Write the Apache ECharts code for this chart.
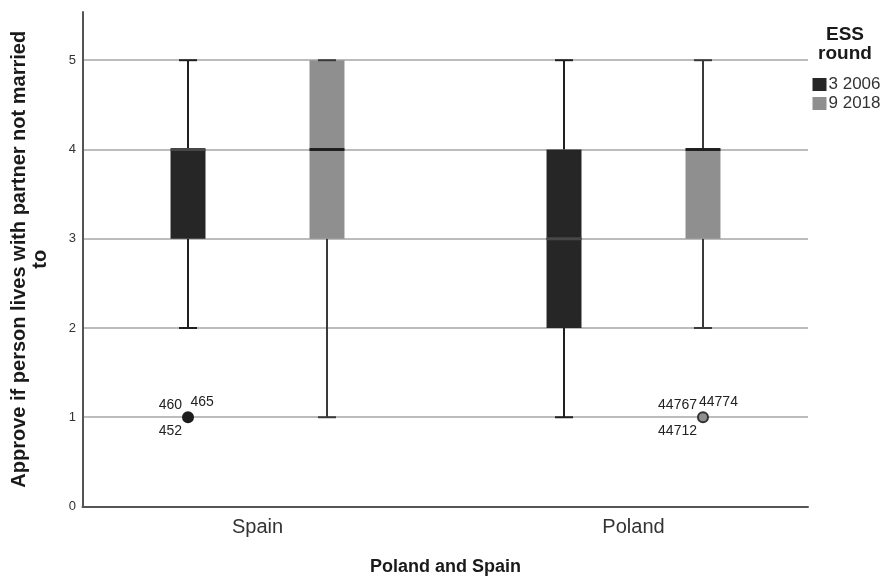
<!DOCTYPE html>
<html>
<head>
<meta charset="utf-8">
<script src="https://cdn.jsdelivr.net/npm/echarts@6/dist/echarts.min.js"></script>
<style>html,body{margin:0;padding:0;background:#fff;}#c{width:885px;height:576px;}</style>
</head>
<body>
<div id="c"></div>
<script>
// ---- data ----
const categories = ['Spain', 'Poland'];
const rounds = ['3 2006', '9 2018'];
// five-number summaries per category (Spain, Poland)
const r2006Min = [2, 1];
const r2006Q1 = [3, 2];
const r2006Median = [4, 3];
const r2006Q3 = [4, 4];
const r2006Max = [5, 5];
const r2018Min = [1, 2];
const r2018Q1 = [3, 3];
const r2018Median = [4, 4];
const r2018Q3 = [5, 4];
const r2018Max = [5, 5];
// outliers
const outlierRound = ['3 2006', '9 2018'];
const outlierCategory = ['Spain', 'Poland'];
const outlierValue = [1, 1];
const outlierCaseIds = [['460', '465', '452'], ['44767', '44774', '44712']];
const yMax = 5.54;

// ---- styles ----
const FONT = "'Liberation Sans', Arial, sans-serif";
const roundStyle = {
  '3 2006': { fill: '#262626', whisker: '#1f1f1f', median: '#474747', offset: -0.1848, dotFill: '#1c1c1c', dotStroke: '#1c1c1c', urDx: 2.5 },
  '9 2018': { fill: '#8f8f8f', whisker: '#3a3a3a', median: '#1f1f1f', offset: 0.1848, dotFill: '#8f8f8f', dotStroke: '#333', urDx: -4 }
};

const summaries = {
  '3 2006': [r2006Min, r2006Q1, r2006Median, r2006Q3, r2006Max],
  '9 2018': [r2018Min, r2018Q1, r2018Median, r2018Q3, r2018Max]
};

function boxData(name) {
  const s = summaries[name];
  return categories.map((c, i) => [i, s[0][i], s[1][i], s[2][i], s[3][i], s[4][i]]);
}

function makeBoxRender(name) {
  const st = roundStyle[name];
  return function (params, api) {
    const cat = api.value(0);
    const band = api.size([1, 0])[0];
    const cx = api.coord([cat, 0])[0] + st.offset * band;
    const y = [1, 2, 3, 4, 5].map(k => api.coord([cat, api.value(k)])[1]);
    const boxW = band * 0.093;
    const capW = band * 0.048;
    const wl = { stroke: st.whisker, lineWidth: 2 };
    const children = [];
    children.push({ type: 'line', shape: { x1: cx, y1: y[0], x2: cx, y2: y[1] }, style: wl });
    children.push({ type: 'line', shape: { x1: cx, y1: y[3], x2: cx, y2: y[4] }, style: wl });
    children.push({ type: 'rect', shape: { x: cx - boxW / 2, y: y[3], width: boxW, height: y[1] - y[3] }, style: { fill: st.fill } });
    children.push({ type: 'line', shape: { x1: cx - boxW / 2, y1: y[2], x2: cx + boxW / 2, y2: y[2] }, style: { stroke: st.median, lineWidth: 3 } });
    children.push({ type: 'line', shape: { x1: cx - capW / 2, y1: y[0], x2: cx + capW / 2, y2: y[0] }, style: wl });
    children.push({ type: 'line', shape: { x1: cx - capW / 2, y1: y[4], x2: cx + capW / 2, y2: y[4] }, style: wl });
    return { type: 'group', children: children };
  };
}

function outlierData(name) {
  const out = [];
  outlierRound.forEach((r, i) => {
    if (r === name) out.push([categories.indexOf(outlierCategory[i]), outlierValue[i], i]);
  });
  return out;
}

function makeOutlierRender(name) {
  const st = roundStyle[name];
  return function (params, api) {
    const cat = api.value(0);
    const band = api.size([1, 0])[0];
    const idx = api.value(2);
    const p = api.coord([cat, api.value(1)]);
    const cx = p[0] + st.offset * band;
    const cy = p[1];
    const ids = outlierCaseIds[idx];
    const ts = { fill: '#222', fontSize: 14, fontFamily: FONT, verticalAlign: 'middle' };
    return {
      type: 'group',
      children: [
        { type: 'circle', shape: { cx: cx, cy: cy, r: 5 }, style: { fill: st.dotFill, stroke: st.dotStroke, lineWidth: 2 } },
        { type: 'text', x: cx - 6, y: cy - 12.5, style: Object.assign({ text: ids[0], align: 'right' }, ts) },
        { type: 'text', x: cx + st.urDx, y: cy - 15.3, style: Object.assign({ text: ids[1], align: 'left' }, ts) },
        { type: 'text', x: cx - 6, y: cy + 13.7, style: Object.assign({ text: ids[2], align: 'right' }, ts) }
      ]
    };
  };
}

const series = [];
rounds.forEach(name => {
  series.push({
    type: 'custom', name: name, xAxisIndex: 0, yAxisIndex: 0,
    itemStyle: { color: roundStyle[name].fill },
    renderItem: makeBoxRender(name),
    encode: { x: 0, y: [1, 2, 3, 4, 5] },
    data: boxData(name), z: 3
  });
  series.push({
    type: 'custom', name: name, xAxisIndex: 0, yAxisIndex: 0,
    itemStyle: { color: roundStyle[name].fill },
    renderItem: makeOutlierRender(name),
    encode: { x: 0, y: 1 },
    data: outlierData(name), z: 4
  });
});

const chart = echarts.init(document.getElementById('c'), null, { renderer: 'canvas' });
chart.setOption({
  animation: false,
  backgroundColor: '#fff',
  textStyle: { fontFamily: FONT },
  title: {
    text: 'ESS\nround', left: 845, top: 25, textAlign: 'center', padding: 0,
    textStyle: { fontSize: 19, fontWeight: 'bold', color: '#1a1a1a', lineHeight: 19, fontFamily: FONT }
  },
  legend: {
    orient: 'vertical', left: 812.5, top: 76, itemWidth: 14, itemHeight: 13, itemGap: 2,
    padding: 0, icon: 'rect', data: rounds,
    textStyle: { fontSize: 17, color: '#333', fontFamily: FONT, lineHeight: 13, padding: [0, 0, 0, -3] }
  },
  grid: [
    { left: 69.5, right: 63.5, top: 12, bottom: 69.5, outerBoundsMode: 'none', containLabel: false },
    { left: 82.5, right: 77, top: 12, bottom: 69.5, outerBoundsMode: 'none', containLabel: false }
  ],
  xAxis: [
    {
      type: 'category', gridIndex: 0, data: categories,
      axisLine: { show: false }, axisTick: { show: false }, splitLine: { show: false },
      axisLabel: { fontSize: 20, color: '#333', margin: 11, fontFamily: FONT },
      name: 'Poland and Spain', nameLocation: 'middle', nameGap: 52,
      nameTextStyle: { fontSize: 18, fontWeight: 'bold', color: '#1a1a1a', fontFamily: FONT }
    },
    {
      type: 'value', gridIndex: 1, min: 0, max: 1,
      axisLine: { show: true, lineStyle: { color: '#555', width: 2 } },
      axisTick: { show: false }, axisLabel: { show: false }, splitLine: { show: false }
    }
  ],
  yAxis: [
    {
      type: 'value', gridIndex: 0, min: 0, max: yMax, interval: 1,
      axisLine: { show: false }, axisTick: { show: false }, axisLabel: { show: false }, splitLine: { show: false }
    },
    {
      type: 'value', gridIndex: 1, min: 0, max: yMax, interval: 1,
      axisLine: { show: true, onZero: false, lineStyle: { color: '#555', width: 2 } },
      axisTick: { show: false },
      axisLabel: {
        fontSize: 13, color: '#333', margin: 6.5, fontFamily: FONT,
        formatter: v => (Math.abs(v - Math.round(v)) < 1e-9 ? String(Math.round(v)) : '')
      },
      splitLine: { show: true, showMaxLine: false, showMinLine: false, lineStyle: { color: '#bcbcbc', width: 2 } },
      name: 'Approve if person lives with partner not married\nto',
      nameLocation: 'middle', nameGap: 31.5, nameRotate: 90,
      nameTextStyle: { fontSize: 20, fontWeight: 'bold', color: '#1a1a1a', lineHeight: 21, fontFamily: FONT, align: 'center' }
    }
  ],
  series: series
});
</script>
</body>
</html>
